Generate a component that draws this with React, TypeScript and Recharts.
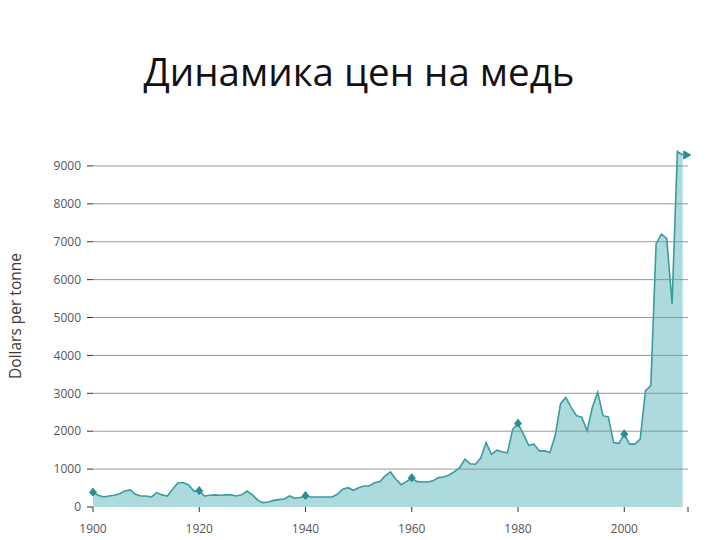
import React from 'react';
import { AreaChart, Area, XAxis, YAxis, ReferenceLine } from 'recharts';

const years: number[] = [];
for (let y = 1900; y <= 2011; y++) years.push(y);

const prices: number[] = [
  380, 310, 265, 290, 310, 350, 420, 450, 335, 290,
  290, 265, 380, 320, 290, 470, 640, 640, 580, 420,
  420, 290, 310, 320, 310, 320, 320, 290, 320, 420,
  320, 180, 115, 130, 175, 195, 210, 290, 230, 250,
  290, 265, 265, 265, 265, 265, 335, 470, 510, 440,
  510, 555, 555, 640, 670, 820, 925, 730, 590, 670,
  760, 670, 660, 660, 690, 775, 790, 845, 930, 1040,
  1260, 1140, 1130, 1300, 1700, 1390, 1500, 1460, 1430, 2050,
  2200, 1930, 1630, 1660, 1480, 1480, 1440, 1880, 2720, 2890,
  2630, 2410, 2370, 2010, 2630, 3030, 2410, 2380, 1700, 1680,
  1920, 1660, 1660, 1790, 3070, 3200, 6950, 7200, 7090, 5360,
  9380, 9290,
];

const xTicks = [1900, 1920, 1940, 1960, 1980, 2000, 2012];
const yTicks = [0, 1000, 2000, 3000, 4000, 5000, 6000, 7000, 8000, 9000];
const gridValues = [1000, 2000, 3000, 4000, 5000, 6000, 7000, 8000, 9000];
const markerYears = [1900, 1920, 1940, 1960, 1980, 2000];
const endYear = 2011;

const title = 'Динамика цен на медь';
const yLabel = 'Dollars per tonne';

const data = years.map((year, i) => ({ year, price: prices[i] }));

const LINE = '#3a9b9f';
const FILL = '#acdadd';
const MARK = '#2a8e92';

const renderDot = (props: any) => {
  const { cx, cy, payload, index } = props;
  const key = `dot-${index}`;
  if (cx == null || cy == null) return <g key={key} />;
  if (markerYears.includes(payload.year)) {
    const s = 3.5;
    return (
      <polygon
        key={key}
        points={`${cx},${cy - s - 1} ${cx + s},${cy} ${cx},${cy + s} ${cx - s},${cy}`}
        fill={MARK}
        stroke={MARK}
      />
    );
  }
  if (payload.year === endYear) {
    return (
      <polygon
        key={key}
        points={`${cx + 1},${cy - 4} ${cx + 8},${cy} ${cx + 1},${cy + 4}`}
        fill={MARK}
        stroke={MARK}
      />
    );
  }
  return <g key={key} />;
};

const tickStyle = { fontFamily: 'Open Sans', fontSize: 12, fill: '#555' };

export default function App() {
  return (
    <div style={{ position: 'absolute', left: 0, top: 0, width: 720, height: 540, background: '#fff' }}>
      <svg width={720} height={110} style={{ position: 'absolute', left: 0, top: 0 }}>
        <text
          x={359}
          y={86}
          textAnchor="middle"
          fontFamily="Open Sans"
          fontSize={38.5}
          fill="#111"
        >
          {title}
        </text>
      </svg>
      <div style={{ position: 'absolute', left: 0, top: 0 }}>
        <AreaChart
          width={720}
          height={540}
          data={data}
          margin={{ top: 147, right: 32, bottom: 3, left: 0 }}
        >
          <XAxis
            dataKey="year"
            type="number"
            domain={[1900, 2012]}
            ticks={xTicks}
            tickFormatter={(v: number) => (v === 2012 ? '' : String(v))}
            axisLine={false}
            tickLine={{ stroke: '#333' }}
            tickSize={5}
            tickMargin={12}
            height={30}
            tick={tickStyle}
            interval={0}
          />
          <YAxis
            type="number"
            domain={[0, 9500]}
            ticks={yTicks}
            axisLine={false}
            tickLine={{ stroke: '#333' }}
            tickSize={6}
            tickMargin={6}
            width={93}
            tick={tickStyle}
            interval={0}
            label={{
              content: () => (
                <text
                  x={21}
                  y={316}
                  transform="rotate(-90 21 316)"
                  textAnchor="middle"
                  fontFamily="Open Sans"
                  fontSize={15.5}
                  fill="#3a3a3a"
                >
                  {yLabel}
                </text>
              ),
            }}
          />
          <Area
            type="linear"
            dataKey="price"
            stroke={LINE}
            strokeWidth={1.6}
            fill={FILL}
            fillOpacity={1}
            dot={renderDot}
            activeDot={false}
            isAnimationActive={false}
          />
          {gridValues.map((v) => (
            <ReferenceLine key={v} y={v} stroke="#8c8c8c" strokeOpacity={0.9} />
          ))}
        </AreaChart>
      </div>
    </div>
  );
}
